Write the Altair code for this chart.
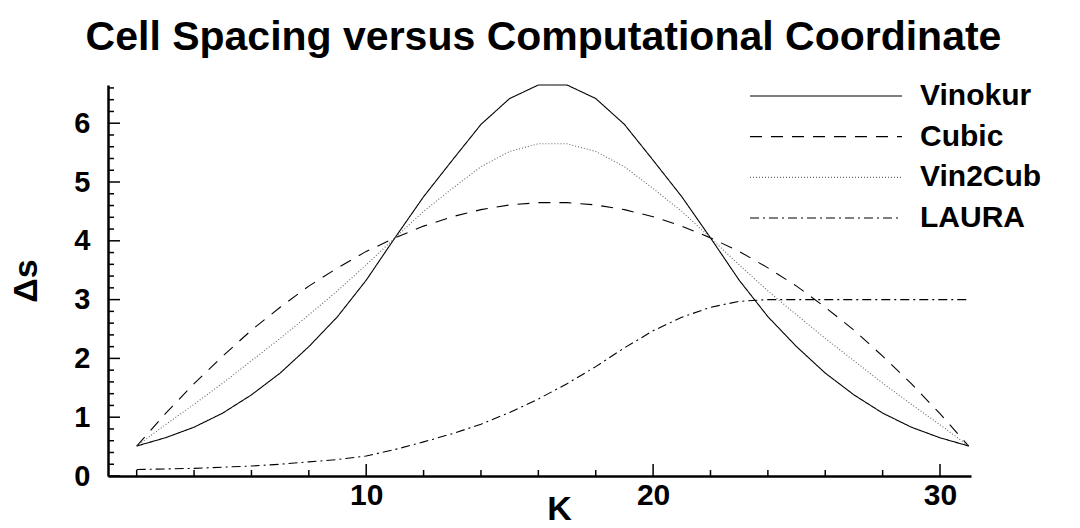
import altair as alt
import pandas as pd

# ---- data ----
K = list(range(2, 32))
vinokur = [0.51, 0.65, 0.83, 1.07, 1.38, 1.75, 2.20, 2.71, 3.33, 4.05, 4.75, 5.37, 5.98, 6.42, 6.65,
           6.65, 6.42, 5.98, 5.37, 4.75, 4.05, 3.33, 2.71, 2.20, 1.75, 1.38, 1.07, 0.83, 0.65, 0.51]
cubic = [0.51, 1.06, 1.57, 2.04, 2.48, 2.87, 3.23, 3.54, 3.82, 4.05, 4.25, 4.41, 4.53, 4.61, 4.65,
         4.65, 4.61, 4.53, 4.41, 4.25, 4.05, 3.82, 3.54, 3.23, 2.87, 2.48, 2.04, 1.57, 1.06, 0.51]
vin2cub = [0.51, 0.87, 1.22, 1.58, 1.96, 2.34, 2.74, 3.15, 3.59, 4.05, 4.50, 4.89, 5.26, 5.52, 5.65,
           5.65, 5.52, 5.26, 4.89, 4.50, 4.05, 3.59, 3.15, 2.74, 2.34, 1.96, 1.58, 1.22, 0.87, 0.51]
laura = [0.11, 0.12, 0.13, 0.15, 0.17, 0.20, 0.24, 0.28, 0.34, 0.45, 0.58, 0.72, 0.88, 1.08, 1.31,
         1.57, 1.86, 2.18, 2.47, 2.70, 2.87, 2.97, 3.00, 3.00, 3.00, 3.00, 3.00, 3.00, 3.00, 3.00]
series_names = ["Vinokur", "Cubic", "Vin2Cub", "LAURA"]

x_major = [10, 20, 30]
x_minor = [2, 4, 6, 8, 12, 14, 16, 18, 22, 24, 26, 28]
y_major = [0, 1, 2, 3, 4, 5, 6]
y_minor = [0.2, 0.4, 0.6, 0.8, 1.2, 1.4, 1.6, 1.8, 2.2, 2.4, 2.6, 2.8, 3.2, 3.4, 3.6, 3.8,
           4.2, 4.4, 4.6, 4.8, 5.2, 5.4, 5.6, 5.8, 6.2, 6.4, 6.6]

W, H = 863, 391
FONT = "Liberation Sans"

rows = []
for name, vals in zip(series_names, [vinokur, cubic, vin2cub, laura]):
    for k, v in zip(K, vals):
        rows.append({"K": k, "ds": v, "series": name})
df = pd.DataFrame(rows)

xscale = alt.Scale(domain=[1, 31.08], nice=False, zero=False)
yscale = alt.Scale(domain=[0, 6.65], nice=False, zero=False)
dash_scale = alt.Scale(domain=series_names, range=[[1, 0], [12, 9], [1, 2], [9, 4, 2, 4]])
color_scale = alt.Scale(domain=series_names, range=["black", "black", "#666666", "black"])

lines = alt.Chart(df).mark_line(strokeWidth=1.1).encode(
    x=alt.X("K:Q", scale=xscale, axis=alt.Axis(
        values=x_major, title="K", labelFontSize=30, labelPadding=4, labelFlush=False,
        titleFontSize=34, titleX=451, titleY=43, titleAlign="center", titleBaseline="alphabetic")),
    y=alt.Y("ds:Q", scale=yscale, axis=alt.Axis(
        values=y_major, title="Δs", labelFontSize=29, labelPadding=18, labelFlush=False,
        titleFontSize=34, titleX=-82, titleY=195.5, titleAngle=270, titleAlign="center",
        titleBaseline="middle")),
    strokeDash=alt.StrokeDash("series:N", scale=dash_scale, legend=None),
    color=alt.Color("series:N", scale=color_scale, legend=None),
)

def xticks(vals, length):
    return alt.Chart(pd.DataFrame({"v": vals})).mark_rule(color="black", strokeWidth=1.5).encode(
        x=alt.X("v:Q", scale=xscale, axis=None),
        y=alt.value(H), y2=alt.value(H - length))

def yticks(vals, length):
    return alt.Chart(pd.DataFrame({"v": vals})).mark_rule(color="black", strokeWidth=1.5).encode(
        y=alt.Y("v:Q", scale=yscale, axis=None),
        x=alt.value(0), x2=alt.value(length))

leg_df = pd.DataFrame({"series": series_names})
leg_y = alt.Scale(type="point", domain=series_names, range=[11, 133], padding=0)
leg_lines = alt.Chart(leg_df).mark_rule(strokeWidth=1.1).encode(
    x=alt.value(642), x2=alt.value(794),
    y=alt.Y("series:N", scale=leg_y, axis=None),
    strokeDash=alt.StrokeDash("series:N", scale=dash_scale, legend=None),
    color=alt.Color("series:N", scale=color_scale, legend=None),
)
leg_text = alt.Chart(leg_df).mark_text(
    align="left", baseline="middle", font=FONT, fontSize=30, fontWeight="bold", color="black"
).encode(
    x=alt.value(812),
    y=alt.Y("series:N", scale=leg_y, axis=None),
    text="series:N",
)

chart = alt.layer(
    lines,
    xticks(x_major, 12), xticks(x_minor, 6),
    yticks(y_major, 12), yticks(y_minor, 6),
    leg_lines, leg_text,
).resolve_scale(
    x="independent", y="independent"
).properties(
    width=W, height=H,
    autosize=alt.AutoSizeParams(type="none"),
    padding={"left": 108, "top": 85, "right": 109, "bottom": 52},
    title=alt.TitleParams("Cell Spacing versus Computational Coordinate", font=FONT, fontSize=41,
                          fontWeight="bold", color="black", anchor="middle", baseline="alphabetic",
                          offset=35, dx=4, dy=45),
).configure(
    background="white",
).configure_view(
    stroke=None,
).configure_axis(
    grid=False, ticks=False, domainColor="black", domainWidth=2.5,
    labelFont=FONT, labelFontWeight="bold", labelColor="black", labelOverlap=False,
    titleFont=FONT, titleFontWeight="bold", titleColor="black",
)

chart.save("out.html", embed_options={"renderer": "svg", "actions": False})
